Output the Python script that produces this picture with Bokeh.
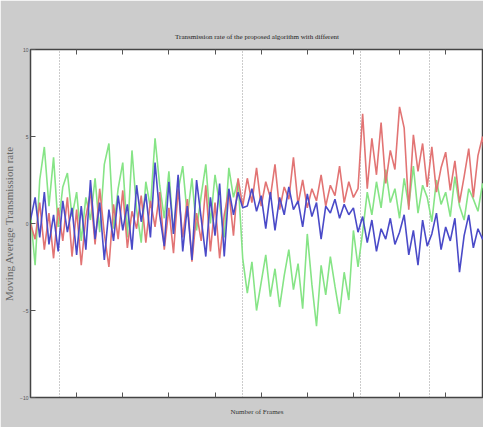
from bokeh.plotting import figure
from bokeh.models import LinearAxis, FixedTicker, Range1d
from bokeh.embed import file_html
from bokeh.resources import INLINE

# Frame numbers (every 5 frames)
frames = list(range(0, 505, 5))

# Moving average transmission rate, three series
red = [0.0, -0.9, 1.2, -1.5, 0.6, -2.0, 0.9, -1.0, 1.5, -1.9, 0.8, -2.4, 0.4, 1.8, -1.2, 2.0,
       -0.6, -2.5, 1.1, -0.9, 1.9, -1.4, 0.7, -0.3, 1.6, -1.1, 1.3, -0.2, 1.8, -1.5, 0.9, -1.7,
       2.0, -0.8, 1.4, -2.2, 0.6, -1.0, 2.2, -1.6, 1.2, -2.0, 0.5, 1.9, -0.7, 2.6, 1.0,
       2.6, 1.2, 3.2, 1.0, 2.4, 1.5, 3.4, 0.8, 2.1, 1.4, 3.8, 1.1, 2.5, 0.9, 2.0, 1.3, 2.8, 1.0,
       2.2, 1.6, 3.3, 1.2, 2.4, 1.5, 2.0,
       6.3, 2.0, 4.9, 2.8, 5.8, 2.3, 4.2, 3.1, 6.7, 5.5, 0.8, 5.1, 3.0, 4.6, 2.1, 4.4, 1.8, 3.2,
       4.1, 1.9, 3.6, 1.2, 2.7, 4.3, 1.5, 3.9, 5.0, 2.2, 4.5]

green = [0.5, -2.4, 2.5, 4.4, 1.0, 3.8, -0.2, 2.1, 2.9, 0.4, 1.8, -1.0, 1.5, 0.2, 2.6, -0.5,
         3.4, 4.6, -0.3, 2.0, 3.5, -0.8, 4.2, 0.8, -1.1, 2.4, 0.9, 4.9, 2.2, 0.3, 3.0, -0.6,
         1.9, 3.3, 0.4, 2.6, -0.4, 1.6, 3.4, 0.0, 2.8, 1.1, -0.8, 3.2, 1.5, 2.5, -2.0,
         -4.0, -2.2, -5.0, -3.4, -1.8, -4.2, -2.6, -4.8, -3.0, -1.5, -3.8, -2.3, -4.9, -0.6,
         -3.5, -5.9, -2.4, -4.1, -1.9, -3.6, -5.2, -2.8, -4.4, -0.4, -2.5,
         -0.5, 1.8, 0.5, 2.4, 0.9, 3.1, 1.2, 2.0, 0.3, 2.6, 1.0, 3.3, 0.6, 2.2, 1.5, 0.1, 2.5,
         1.1, 1.8, 0.4, 2.7, 1.0, 0.2, 2.0, 1.4, 0.7, 2.3, 1.3, 2.1]

blue = [0.2, 1.5, -0.8, 1.8, -1.2, 0.5, -1.6, 1.3, -0.5, 0.9, -1.8, 1.0, -1.5, 2.5, -0.9, 1.2,
        -2.1, 0.8, -1.0, 1.6, -0.4, 1.1, -1.5, 2.2, 0.1, 1.7, -0.8, 3.5, 0.5, -1.3, 2.4, -0.6,
        2.8, -1.6, 1.0, -2.1, 2.5, 0.3, -1.9, 1.5, -0.7, 2.3, -1.9, 2.0, 0.5, 1.8, 0.9,
        1.0, 2.0, 0.7, 1.6, -0.3, 1.8, -0.4, 1.5, 0.5, 2.1, 0.8, 1.3, -0.2, 1.7, 0.4, 1.2, -0.9,
        1.0, 0.6, 1.4, 0.3, 1.1, 0.5, 0.9, -0.5,
        0.4, -1.1, 0.2, -1.6, -0.3, -0.9, 0.3, -1.2, -0.5, 0.5, -1.8, -0.4, -2.4, 0.2, -1.3,
        -0.6, 0.6, -1.5, -0.2, -1.0, 0.3, -2.8, -0.7, 0.5, -1.4, -0.3, -0.9, 0.1, -0.4]

y_ticks = [-10, -5, 0, 5, 10]
x_ticks = list(range(0, 501, 50))
change_points = [31, 230, 358, 433]

p = figure(width=483, height=427, output_backend="svg", toolbar_location=None,
           x_range=Range1d(0, 491), y_range=Range1d(-10, 10),
           min_border_left=25, min_border_right=0, min_border_top=49, min_border_bottom=30,
           title="Transmission rate of the proposed algorithm with different")

p.border_fill_color = "#cccccc"
p.background_fill_color = "white"
p.outline_line_color = "#444444"
p.outline_line_width = 1.5

p.title.align = "center"
p.title.text_font = "Liberation Serif"
p.title.text_font_size = "7px"
p.title.text_font_style = "normal"
p.title.text_color = "#222222"
p.title.standoff = 18

p.line(frames, green, line_color="#86e486", line_width=1.6)
p.line(frames, red, line_color="#e27474", line_width=1.6)
p.line(frames, blue, line_color="#4a4ac8", line_width=1.6)

no_labels = {t: "" for t in x_ticks}

# axes
p.xaxis.ticker = FixedTicker(ticks=x_ticks)
p.xaxis.major_tick_in = 5
p.xaxis.major_tick_out = 0
p.xaxis.minor_tick_line_color = None
p.xaxis.major_label_overrides = no_labels
p.xaxis.axis_label = "Number of Frames"
p.xaxis.axis_label_text_font = "Liberation Serif"
p.xaxis.axis_label_text_font_size = "7px"
p.xaxis.axis_label_text_font_style = "normal"
p.xaxis.axis_label_text_color = "#333333"
p.xaxis.axis_label_standoff = 10
p.xaxis.axis_line_color = "#444444"
p.xaxis.major_tick_line_color = "#555555"

p.yaxis.ticker = FixedTicker(ticks=y_ticks)
p.yaxis.major_tick_in = 5
p.yaxis.major_tick_out = 0
p.yaxis.minor_tick_line_color = None
p.yaxis.major_label_text_font_size = "5px"
p.yaxis.major_label_text_color = "#555555"
p.yaxis.major_label_standoff = 2
p.yaxis.axis_label = "Moving Average Transmission rate"
p.yaxis.axis_label_text_font = "Liberation Serif"
p.yaxis.axis_label_text_font_size = "11px"
p.yaxis.axis_label_text_font_style = "normal"
p.yaxis.axis_label_text_color = "#666666"
p.yaxis.axis_label_standoff = 2
p.yaxis.axis_line_color = "#444444"
p.yaxis.major_tick_line_color = "#555555"

top = LinearAxis(ticker=FixedTicker(ticks=x_ticks), major_tick_in=5, major_tick_out=0,
                 minor_tick_line_color=None, major_label_overrides=no_labels,
                 axis_line_color="#444444", major_tick_line_color="#555555")
p.add_layout(top, "above")

p.xgrid.ticker = FixedTicker(ticks=change_points)
p.xgrid.grid_line_color = "#999999"
p.xgrid.grid_line_dash = "1 2"
p.ygrid.grid_line_color = None

open("out.html", "w").write(file_html(p, INLINE))
